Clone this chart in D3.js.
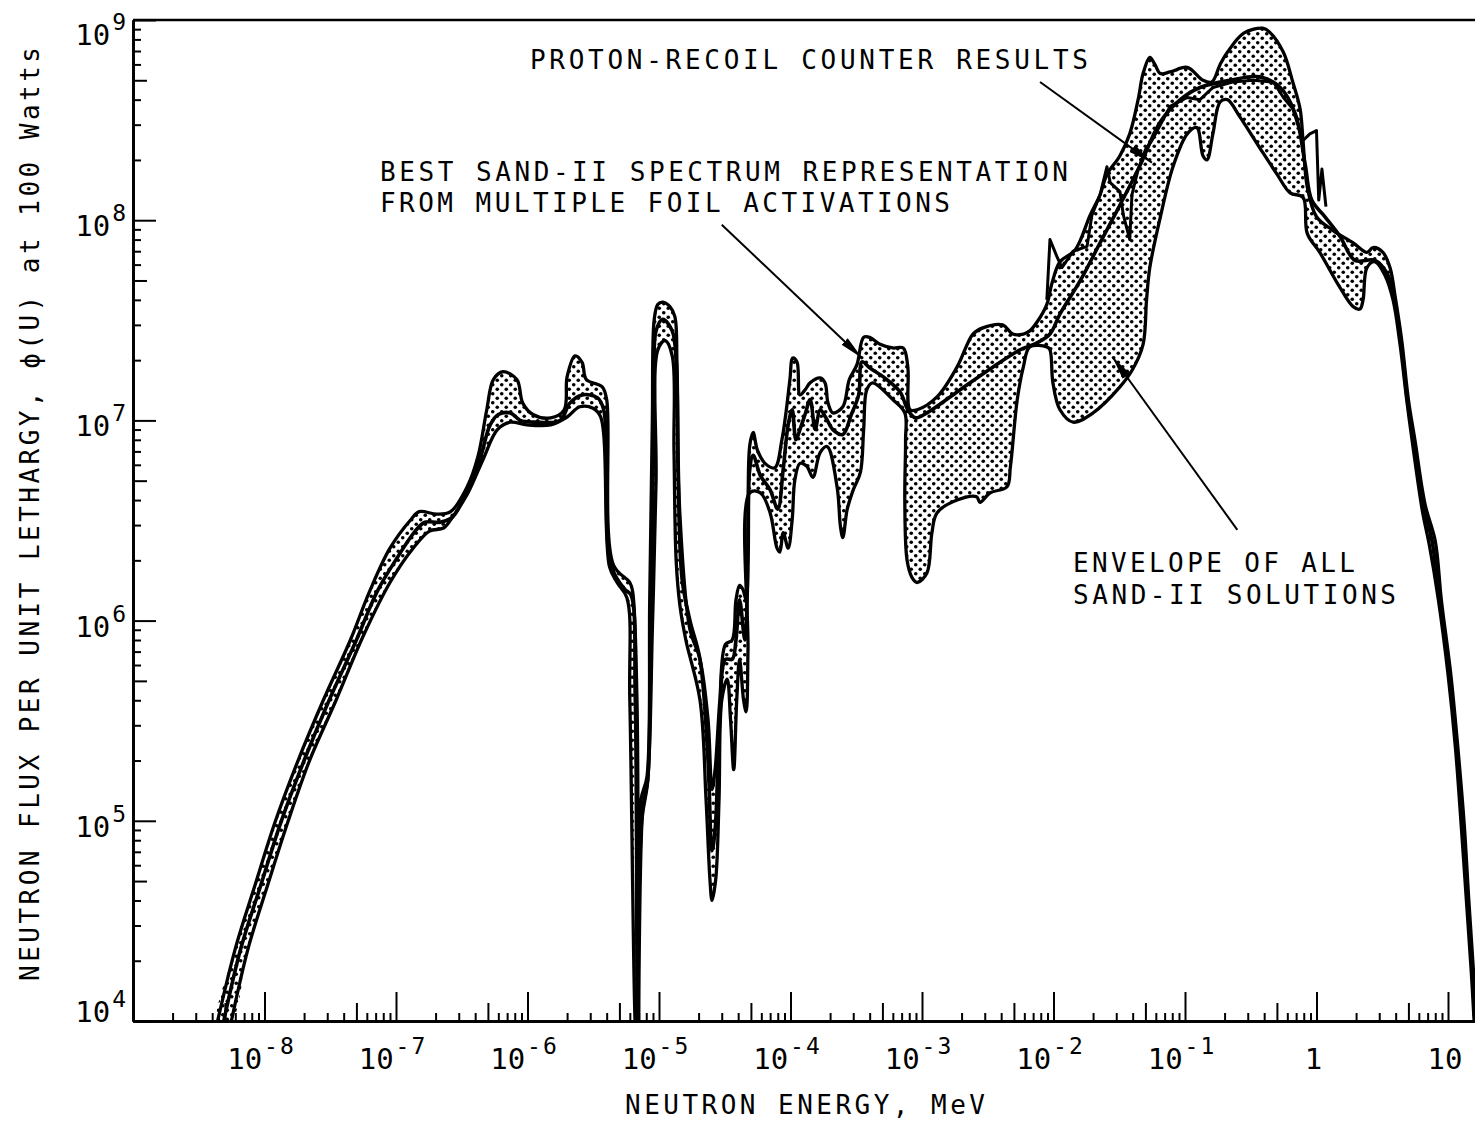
<!DOCTYPE html>
<html>
<head>
<meta charset="utf-8">
<script src="https://cdn.jsdelivr.net/npm/d3@7"></script>
<style>
body { margin: 0; background: #fff; }
text { font-family: "DejaVu Sans Mono", monospace; fill: #000; }
.axis path.domain { stroke: #000; stroke-width: 2.5; }
.axis line { stroke: #000; stroke-width: 2; }
</style>
</head>
<body>
<script>
// energy in MeV, flux per unit lethargy
const envUpper = [
  [4.4e-9,1e4],[6.0e-9,2.3e4],[8.5e-9,4.8e4],[1.2e-8,9.8e4],[1.8e-8,2.0e5],[2.8e-8,4.0e5],[4.5e-8,8.0e5],
  [6.3e-8,1.4e6],[9.0e-8,2.3e6],[1.3e-7,3.2e6],[1.5e-7,3.5e6],[2.05e-7,3.4e6],[2.6e-7,3.5e6],[3.5e-7,4.7e6],
  [4.2e-7,6.6e6],[4.9e-7,1.13e7],[5.5e-7,1.6e7],[6.5e-7,1.75e7],[8.3e-7,1.6e7],[9.2e-7,1.22e7],[1.1e-6,1.07e7],
  [1.5e-6,1.03e7],[1.9e-6,1.13e7],[2.0e-6,1.65e7],[2.3e-6,2.1e7],[2.6e-6,1.95e7],[2.8e-6,1.6e7],[3.7e-6,1.47e7],
  [4.0e-6,1.27e7],[4.5e-6,1.9e6],[6.0e-6,1.55e6],[6.3e-6,1.4e6],[6.8e-6,4.0e5],[7.0e-6,8e3],[7.3e-6,1.27e5],
  [8.1e-6,1.66e5],[8.5e-6,1.27e6],[8.9e-6,1.0e7],[9.2e-6,3.2e7],[9.8e-6,3.8e7],[1.07e-5,3.9e7],[1.21e-5,3.7e7],
  [1.32e-5,3.3e7],[1.37e-5,1.94e7],[1.44e-5,3.45e6],[1.72e-5,9.0e5],[2.05e-5,6.4e5],[2.36e-5,3.2e5],[2.53e-5,1.43e5],
  [2.67e-5,1.8e5],[2.9e-5,4.0e5],[3.2e-5,7.6e5],[3.6e-5,8.0e5],[3.85e-5,1.27e6],[4.1e-5,1.5e6],[4.35e-5,1.43e6],
  [4.6e-5,1.27e6],[4.75e-5,3.2e6],[4.9e-5,7.5e6],[5.2e-5,8.7e6],[5.6e-5,7.1e6],[6.4e-5,6.1e6],[7.6e-5,5.8e6],
  [8.6e-5,8.0e6],[9.2e-5,1.07e7],[9.9e-5,1.6e7],[1.04e-4,2.05e7],[1.12e-4,1.96e7],[1.18e-4,1.34e7],[1.29e-4,1.42e7],
  [1.41e-4,1.54e7],[1.68e-4,1.63e7],[1.83e-4,1.54e7],[1.93e-4,1.22e7],[2.1e-4,1.09e7],[2.5e-4,1.17e7],[2.8e-4,1.6e7],
  [3.2e-4,1.9e7],[3.6e-4,2.6e7],[4.0e-4,2.6e7],[4.8e-4,2.4e7],[6.0e-4,2.3e7],[7.2e-4,2.3e7],[7.8e-4,1.85e7],
  [8.1e-4,1.13e7],[9.2e-4,1.13e7],[1.3e-3,1.31e7],[1.85e-3,1.85e7],[2.44e-3,2.7e7],[2.9e-3,2.9e7],[4.1e-3,3.0e7],
  [4.9e-3,2.7e7],[5.9e-3,2.7e7],[6.6e-3,2.8e7],[7.5e-3,3.1e7],[8.9e-3,3.8e7],[9.7e-3,4.8e7],[1.12e-2,6.2e7],
  [1.46e-2,7.1e7],[1.9e-2,1.06e8],[2.26e-2,1.34e8],[2.55e-2,1.69e8],[3.2e-2,2.1e8],[3.8e-2,2.7e8],[4.4e-2,4.0e8],
  [4.8e-2,5.4e8],[5.4e-2,6.5e8],[5.9e-2,6.0e8],[6.5e-2,5.4e8],[7.7e-2,5.5e8],[1.04e-1,5.8e8],[1.37e-1,5.0e8],
  [1.6e-1,4.9e8],[1.85e-1,6.0e8],[2.1e-1,6.9e8],[2.8e-1,8.6e8],[3.9e-1,9.1e8],[4.4e-1,8.7e8],[5.6e-1,6.9e8],
  [6.6e-1,4.9e8],[7.5e-1,3.6e8],[7.9e-1,2.5e8],[8.5e-1,1.47e8],[1.0,1.04e8],[1.33,8.9e7],[1.9,7.7e7],[2.42,6.9e7],
  [2.69,7.3e7],[3.2,6.9e7],[3.62,5.8e7],[4.0,4.0e7],[4.45,2.5e7],[5.0,1.27e7],[5.6,8.0e6],[6.7,3.8e6],
  [8.0,2.5e6],[8.9,1.27e6],[10.5,5.4e5],[11.9,2.3e5],[13.3,9.5e4],[14.4,4.0e4],[15.6,1.8e4],[16.3,1e4]
]

const envLower = [
  [5.6e-9,1e4],[7.5e-9,2.3e4],[1.06e-8,4.8e4],[1.5e-8,9.8e4],[2.2e-8,2.0e5],[3.5e-8,4.0e5],[5.6e-8,8.3e5],
  [9.0e-8,1.55e6],[1.35e-7,2.3e6],[1.8e-7,2.8e6],[2.3e-7,2.9e6],[2.7e-7,3.3e6],[3.5e-7,4.3e6],[4.6e-7,6.4e6],
  [5.9e-7,9.0e6],[7.4e-7,9.8e6],[9.9e-7,9.5e6],[1.5e-6,9.5e6],[2.0e-6,1.04e7],[2.5e-6,1.17e7],[3.15e-6,1.15e7],
  [3.6e-6,1.04e7],[4.2e-6,1.86e6],[4.8e-6,1.55e6],[5.7e-6,1.3e6],[6.0e-6,4.0e5],[6.7e-6,8e3],[7.4e-6,1.0e5],
  [8.2e-6,1.57e5],[8.9e-6,9.0e5],[9.5e-6,5.0e6],[9.8e-6,2.25e7],[1.11e-5,2.5e7],[1.26e-5,2.1e7],[1.3e-5,7.1e6],
  [1.35e-5,2.0e6],[1.44e-5,1.2e6],[1.6e-5,8.0e5],[2.05e-5,4.0e5],[2.28e-5,1.27e5],[2.44e-5,5.1e4],[2.53e-5,4.0e4],
  [2.7e-5,5.1e4],[2.86e-5,1.27e5],[3.0e-5,4.0e5],[3.3e-5,5.1e5],[3.5e-5,3.2e5],[3.7e-5,1.8e5],[3.9e-5,4.0e5],
  [4.1e-5,6.4e5],[4.4e-5,4.0e5],[4.6e-5,3.5e5],[4.75e-5,7.1e5],[4.9e-5,4.35e6],[5.9e-5,4.35e6],[7.0e-5,3.45e6],
  [7.9e-5,2.3e6],[8.3e-5,2.2e6],[8.8e-5,2.75e6],[9.6e-5,2.3e6],[1.03e-4,3.2e6],[1.08e-4,5.05e6],[1.18e-4,6.1e6],
  [1.33e-4,5.9e6],[1.48e-4,5.2e6],[1.68e-4,6.9e6],[1.9e-4,7.4e6],[2.26e-4,4.66e6],[2.4e-4,2.94e6],[2.5e-4,2.6e6],
  [2.7e-4,3.6e6],[3.0e-4,4.5e6],[3.4e-4,5.5e6],[3.6e-4,9.0e6],[3.8e-4,1.42e7],[4.2e-4,1.54e7],[6.0e-4,1.27e7],
  [7.4e-4,1.09e7],[7.5e-4,8.0e6],[7.4e-4,4.0e6],[7.7e-4,2.0e6],[8.4e-4,1.64e6],[9.2e-4,1.55e6],[1.09e-3,1.73e6],
  [1.19e-3,2.75e6],[1.3e-3,3.45e6],[1.85e-3,4.0e6],[2.6e-3,4.15e6],[2.76e-3,3.9e6],[3.3e-3,4.35e6],[4.43e-3,4.66e6],
  [4.7e-3,5.86e6],[5.3e-3,1.27e7],[5.9e-3,1.85e7],[6.6e-3,2.33e7],[8.9e-3,2.33e7],[9.4e-3,2.25e7],[9.9e-3,1.54e7],
  [1.12e-2,1.13e7],[1.41e-2,9.8e6],[2.0e-2,1.09e7],[3.2e-2,1.47e7],[4.0e-2,1.8e7],[4.8e-2,2.4e7],[5.1e-2,4.0e7],
  [5.4e-2,5.8e7],[6.5e-2,1.04e8],[8.1e-2,1.85e8],[1.04e-1,2.7e8],[1.23e-1,2.9e8],[1.37e-1,2.1e8],[1.47e-1,2.0e8],
  [1.63e-1,2.7e8],[1.85e-1,3.9e8],[2.1e-1,4.0e8],[2.6e-1,3.3e8],[3.7e-1,2.3e8],[5.0e-1,1.7e8],[6.3e-1,1.37e8],
  [7.9e-1,1.3e8],[8.5e-1,8.6e7],[1.06,6.9e7],[1.51,4.6e7],[1.9,3.7e7],[2.14,3.6e7],[2.26,4.0e7],[2.42,5.8e7],
  [2.79,6.2e7],[3.32,5.3e7],[3.82,4.0e7],[4.32,2.39e7],[4.85,1.27e7],[5.4,7.5e6],[6.4,3.5e6],[7.2,2.4e6],
  [8.45,1.27e6],[10.0,5.4e5],[11.4,2.3e5],[12.6,9.5e4],[13.8,4.0e4],[15.0,1.8e4],[15.8,1e4]
]

const bestFit = [
  [4.9e-9,1e4],[6.6e-9,2.3e4],[9.4e-9,4.8e4],[1.33e-8,9.8e4],[2.0e-8,2.0e5],[3.1e-8,4.0e5],[5.0e-8,8.0e5],
  [7.2e-8,1.4e6],[1.04e-7,2.1e6],[1.4e-7,2.8e6],[1.66e-7,3.1e6],[2.16e-7,3.1e6],[2.7e-7,3.3e6],[3.5e-7,4.5e6],
  [4.35e-7,6.4e6],[5.2e-7,9.5e6],[6.0e-7,1.07e7],[7.4e-7,1.09e7],[8.8e-7,1.0e7],[1.14e-6,9.8e6],[1.77e-6,1.0e7],
  [2.1e-6,1.22e7],[2.6e-6,1.34e7],[3.4e-6,1.3e7],[3.8e-6,1.13e7],[4.3e-6,1.9e6],[5.5e-6,1.43e6],[6.1e-6,1.35e6],
  [6.6e-6,4.0e5],[6.9e-6,8e3],[7.5e-6,1.13e5],[8.2e-6,1.6e5],[8.7e-6,1.27e6],[9.2e-6,1.27e7],[9.5e-6,2.8e7],
  [1.07e-5,3.2e7],[1.26e-5,2.8e7],[1.35e-5,2.0e7],[1.4e-5,5.0e6],[1.5e-5,1.6e6],[1.72e-5,1.0e6],[2.05e-5,6.4e5],
  [2.36e-5,2.0e5],[2.53e-5,7.1e4],[2.67e-5,9.0e4],[2.9e-5,3.2e5],[3.2e-5,6.4e5],[3.6e-5,6.4e5],[3.85e-5,8.0e5],
  [4.1e-5,1.27e6],[4.5e-5,8.0e5],[4.75e-5,2.0e6],[4.9e-5,5.7e6],[5.2e-5,6.7e6],[5.9e-5,5.3e6],[7.0e-5,4.5e6],
  [8.0e-5,3.6e6],[8.8e-5,5.7e6],[9.6e-5,9.5e6],[1.03e-4,1.13e7],[1.1e-4,8.0e6],[1.18e-4,9.0e6],[1.29e-4,1.07e7],
  [1.41e-4,1.27e7],[1.54e-4,9.0e6],[1.68e-4,1.13e7],[1.86e-4,1.03e7],[2.1e-4,9.0e6],[2.5e-4,8.5e6],[2.9e-4,1.07e7],
  [3.3e-4,1.34e7],[3.5e-4,1.96e7],[4.0e-4,1.83e7],[5.2e-4,1.63e7],[6.8e-4,1.39e7],[7.8e-4,1.13e7],[8.9e-4,1.03e7],
  [1.09e-3,1.09e7],[1.94e-3,1.42e7],[3.47e-3,1.85e7],[5.56e-3,2.25e7],[7.5e-3,2.44e7],[9.4e-3,2.7e7],[1.12e-2,3.4e7],
  [1.6e-2,5.0e7],[2.26e-2,7.7e7],[3.2e-2,1.19e8],[4.5e-2,1.85e8],[6.5e-2,3.1e8],[9.2e-2,4.0e8],[1.3e-1,4.6e8],
  [2.2e-1,5.0e8],[3.7e-1,5.2e8],[5.3e-1,4.6e8],[6.9e-1,3.4e8],[8.2e-1,1.9e8],[9.2e-1,1.26e8],[1.16,1.04e8],
  [1.51,8.3e7],[1.96,6.3e7],[2.79,6.3e7],[3.5,5.3e7],[3.95,3.8e7],[4.4,2.47e7],[4.9,1.27e7],[5.5,7.8e6],
  [6.55,3.7e6],[7.6,2.45e6],[8.65,1.27e6],[10.25,5.4e5],[11.6,2.3e5],[12.9,9.5e4],[14.1,4.0e4],[15.3,1.8e4],[16.0,1e4]
]

const protonRecoil = [
  [8.9e-3,4.0e7],[9.4e-3,8.0e7],[1.06e-2,6.6e7],[1.16e-2,5.8e7],[1.41e-2,7.0e7],[1.8e-2,7.4e7],[1.96e-2,1.06e8],
  [2.26e-2,1.34e8],[2.55e-2,1.85e8],[2.7e-2,1.54e8],[3.2e-2,1.39e8],[3.4e-2,1.06e8],[3.8e-2,8.0e7],[3.95e-2,1.34e8],
  [4.4e-2,1.79e8],[5.0e-2,2.25e8],[5.6e-2,2.5e8],[6.5e-2,3.0e8],[7.7e-2,3.7e8],[1.04e-1,4.1e8],[1.3e-1,4.0e8],
  [1.63e-1,4.6e8],[2.3e-1,4.9e8],[3.3e-1,5.0e8],[4.7e-1,4.9e8],[5.6e-1,4.1e8],[6.6e-1,3.6e8],[7.9e-1,2.5e8],
  [8.9e-1,2.7e8],[1.0,2.8e8],[1.04,1.26e8],[1.1,1.8e8],[1.18,1.17e8]
]

const xMajor = [1e-8, 1e-7, 1e-6, 1e-5, 1e-4, 1e-3, 1e-2, 1e-1, 1, 10]
const xLabels = [['10','-8'],['10','-7'],['10','-6'],['10','-5'],['10','-4'],['10','-3'],['10','-2'],['10','-1'],['1',''],['10','']]
const yMajor = [1e4, 1e5, 1e6, 1e7, 1e8, 1e9]
const yLabels = [['10','4'],['10','5'],['10','6'],['10','7'],['10','8'],['10','9']]

// annotation arrows: [tailE, tailPhi, tipE, tipPhi]
const arrows = [
  [7.9e-3, 4.9e8, 5.6e-2, 1.94e8],
  [3.0e-5, 9.5e7, 3.5e-4, 2.05e7],
  [2.5e-1, 2.84e6, 2.8e-2, 2.08e7]
]
const notes = [
  {text: 'PROTON-RECOIL COUNTER RESULTS', x: 530, y: 69, len: 558},
  {text: 'BEST SAND-II SPECTRUM REPRESENTATION', x: 380, y: 181, len: 688},
  {text: 'FROM MULTIPLE FOIL ACTIVATIONS', x: 380, y: 212, len: 570},
  {text: 'ENVELOPE OF ALL', x: 1073, y: 572, len: 282},
  {text: 'SAND-II SOLUTIONS', x: 1073, y: 604, len: 323}
]

const W = 1475, H = 1125
const svg = d3.select('body').append('svg').attr('width', W).attr('height', H)
svg.append('rect').attr('width', W).attr('height', H).attr('fill', '#fff')

const x = d3.scaleLog().domain([1e-9, 100]).range([133, 133 + 11 * 131.5])
const y = d3.scaleLog().domain([1e4, 1e9]).range([1021, 20])

const defs = svg.append('defs')
const pat = defs.append('pattern').attr('id', 'stipple')
  .attr('patternUnits', 'userSpaceOnUse').attr('width', 9).attr('height', 9)
pat.append('circle').attr('cx', 2.25).attr('cy', 2.25).attr('r', 1.8)
pat.append('circle').attr('cx', 6.75).attr('cy', 6.75).attr('r', 1.8)

defs.append('clipPath').attr('id', 'plot').append('rect')
  .attr('x', x.range()[0]).attr('y', y.range()[1])
  .attr('width', x.range()[1] - x.range()[0]).attr('height', y.range()[0] - y.range()[1])

defs.append('marker').attr('id', 'head')
  .attr('markerUnits', 'userSpaceOnUse').attr('viewBox', '0 0 24 9')
  .attr('markerWidth', 24).attr('markerHeight', 9).attr('refX', 24).attr('refY', 4.5)
  .attr('orient', 'auto')
  .append('path').attr('d', 'M0,0L24,4.5L0,9Z').attr('fill', '#000')

const line = d3.line().x(d => x(d[0])).y(d => y(d[1])).curve(d3.curveCatmullRom.alpha(0.5))
const loop = d3.line().x(d => x(d[0])).y(d => y(d[1])).curve(d3.curveCatmullRomClosed.alpha(0.5))

const plot = svg.append('g').attr('clip-path', 'url(#plot)')

// envelope band
plot.append('path')
  .attr('d', loop(envUpper.concat(envLower.slice().reverse())))
  .attr('fill', 'url(#stipple)').attr('stroke', 'none')

plot.selectAll('.env').data([envUpper, envLower]).join('path')
  .attr('class', 'env').attr('d', line)
  .attr('fill', 'none').attr('stroke', '#000').attr('stroke-width', 3.3).attr('stroke-linejoin', 'round')

plot.append('path').attr('d', line(bestFit))
  .attr('fill', 'none').attr('stroke', '#000').attr('stroke-width', 3.6).attr('stroke-linejoin', 'round')

plot.append('path').attr('d', line.curve(d3.curveLinear)(protonRecoil))
  .attr('fill', 'none').attr('stroke', '#000').attr('stroke-width', 3).attr('stroke-linejoin', 'round')

// axes
const mant = v => +(v / Math.pow(10, Math.floor(Math.log10(v) + 1e-9))).toFixed(3)
const xt = x.ticks(40).filter(v => v > 1.01e-9 && v < 16)
const yt = y.ticks(40)

function tickGroups(ticks) {
  return [
    ticks.filter(v => mant(v) !== 1 && mant(v) !== 5),
    ticks.filter(v => mant(v) === 5),
    ticks.filter(v => mant(v) === 1)
  ]
}

const xSizes = [8, 18, 29]
tickGroups(xt).forEach((vals, i) => {
  svg.append('g').attr('class', 'axis').attr('transform', `translate(0,${y(1e4)})`)
    .call(d3.axisBottom(x).tickValues(vals).tickSize(-xSizes[i]).tickSizeOuter(0).tickFormat(''))
})
const ySizes = [8, 14, 23]
tickGroups(yt).forEach((vals, i) => {
  svg.append('g').attr('class', 'axis').attr('transform', `translate(${x(1e-9)},0)`)
    .call(d3.axisLeft(y).tickValues(vals).tickSize(-ySizes[i]).tickSizeOuter(0).tickFormat(''))
})
svg.append('line').attr('x1', x(1e-9)).attr('x2', x(100)).attr('y1', y(1e9)).attr('y2', y(1e9))
  .attr('stroke', '#000').attr('stroke-width', 2.5)

// tick labels
svg.selectAll('.xlab').data(xMajor).join('text').attr('class', 'xlab')
  .attr('x', d => x(d) - 3).attr('y', 1069).attr('text-anchor', 'middle')
  .each(function (d, i) {
    const t = d3.select(this)
    t.append('tspan').attr('font-size', 29).text(xLabels[i][0])
    if (xLabels[i][1]) t.append('tspan').attr('font-size', 23).attr('dy', -15).attr('dx', 2)
      .attr('letter-spacing', 2).text(xLabels[i][1])
  })

svg.selectAll('.ylab').data(yMajor).join('text').attr('class', 'ylab')
  .attr('x', 126).attr('y', d => Math.max(45, Math.min(1022, y(d) + 16))).attr('text-anchor', 'end')
  .each(function (d, i) {
    const t = d3.select(this)
    t.append('tspan').attr('font-size', 29).text(yLabels[i][0])
    t.append('tspan').attr('font-size', 23).attr('dy', -15).attr('dx', 2).text(yLabels[i][1])
  })

// axis titles
svg.append('text').attr('x', 805).attr('y', 1114).attr('text-anchor', 'middle')
  .attr('font-size', 26).attr('textLength', 360).attr('lengthAdjust', 'spacing')
  .text('NEUTRON ENERGY, MeV')
svg.append('text').attr('transform', 'translate(39,514) rotate(-90)').attr('text-anchor', 'middle')
  .attr('font-size', 26).attr('textLength', 934).attr('lengthAdjust', 'spacing')
  .text('NEUTRON FLUX PER UNIT LETHARGY, \u03d5(U) at 100 Watts')

// annotations
svg.selectAll('.note').data(notes).join('text').attr('class', 'note')
  .attr('x', d => d.x).attr('y', d => d.y).attr('font-size', 26)
  .attr('textLength', d => d.len).attr('lengthAdjust', 'spacing')
  .text(d => d.text)

svg.selectAll('.arrow').data(arrows).join('line').attr('class', 'arrow')
  .attr('x1', d => x(d[0])).attr('y1', d => y(d[1]))
  .attr('x2', d => x(d[2])).attr('y2', d => y(d[3]))
  .attr('stroke', '#000').attr('stroke-width', 2).attr('marker-end', 'url(#head)')
</script>
</body>
</html>
